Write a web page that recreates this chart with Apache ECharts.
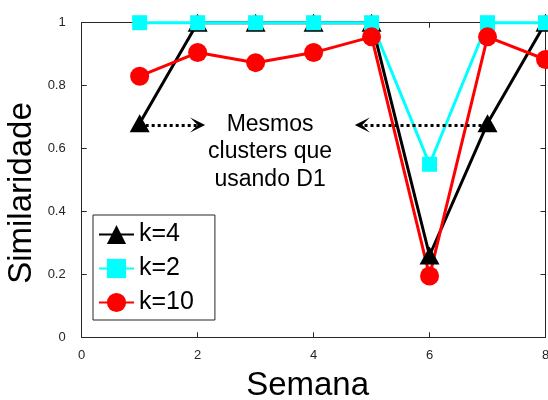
<!DOCTYPE html>
<html>
<head>
<meta charset="utf-8">
<script src="https://cdn.jsdelivr.net/npm/echarts@6/dist/echarts.min.js"></script>
<style>
html,body{margin:0;padding:0;background:#fff;}
#chart{width:548px;height:400px;}
</style>
</head>
<body>
<div id="chart"></div>
<script>
// ---- data ----
const weeks = [1, 2, 3, 4, 5, 6, 7, 8];
const k4Values = [0.68, 1, 1, 1, 1, 0.26, 0.68, 1];
const k2Values = [1, 1, 1, 1, 1, 0.55, 1, 1];
const k10Values = [0.83, 0.905, 0.873, 0.905, 0.955, 0.195, 0.955, 0.883];
const seriesNames = ['k=4', 'k=2', 'k=10'];
const xTicks = [0, 2, 4, 6, 8];
const yTicks = [0, 0.2, 0.4, 0.6, 0.8, 1];
const annotationText = 'Mesmos\nclusters que\nusando D1';
const annotationPos = [3.25, 0.59];
const arrowRight = [[1, 0.675], [2.0, 0.675]];
const arrowLeft = [[7, 0.675], [4.84, 0.675]];

const FONT = 'Liberation Sans, Arial, Helvetica, sans-serif';
const AX = '#262626';
const pairs = (ys) => weeks.map((w, i) => [w, ys[i]]);

const chart = echarts.init(document.getElementById('chart'), null, {renderer: 'canvas'});

const baseX = {
  type: 'value', min: xTicks[0], max: xTicks[xTicks.length - 1], interval: 2,
  axisLine: {show: true, onZero: false, lineStyle: {color: AX, width: 1}},
  axisTick: {show: true, inside: true, length: 5, lineStyle: {color: AX}},
  splitLine: {show: false}
};
const baseY = {
  type: 'value', min: yTicks[0], max: yTicks[yTicks.length - 1], interval: 0.2,
  axisLine: {show: true, onZero: false, lineStyle: {color: AX, width: 1}},
  axisTick: {show: true, inside: true, length: 5, lineStyle: {color: AX}},
  splitLine: {show: false}
};

// open chevron arrow head pointing "up" (rotated along line by ECharts)
const arrowHead = 'path://M5,0 L10,10 L5,5 L0,10 Z';

const option = {
  animation: false,
  backgroundColor: '#ffffff',
  textStyle: {fontFamily: FONT},
  grid: {left: 81.7, right: 2.5, top: 22.7, bottom: 62.7, containLabel: false, outerBoundsMode: 'none'},
  legend: {
    orient: 'vertical',
    left: 93, top: 215,
    data: seriesNames,
    itemWidth: 35, itemHeight: 24, itemGap: 9,
    padding: [7, 21, 5, 5],
    borderColor: AX, borderWidth: 1, backgroundColor: '#fff',
    textStyle: {fontFamily: FONT, fontSize: 25, color: '#000'},
    selectedMode: false
  },
  xAxis: [
    Object.assign({}, baseX, {
      position: 'bottom',
      name: 'Semana', nameLocation: 'middle', nameGap: 32, nameMoveOverlap: false,
      nameTextStyle: {fontFamily: FONT, fontSize: 33, color: '#000', padding: [0, 12, 0, 0]},
      axisLabel: {show: true, margin: 12, fontSize: 13, color: AX, fontFamily: FONT}
    }),
    Object.assign({}, baseX, {position: 'top', axisLabel: {show: false}})
  ],
  yAxis: [
    Object.assign({}, baseY, {
      position: 'left',
      name: 'Similaridade', nameLocation: 'middle', nameGap: 43, nameMoveOverlap: false,
      nameTextStyle: {fontFamily: FONT, fontSize: 33, color: '#000', padding: [0, 26, 0, 0]},
      axisLabel: {show: true, margin: 16, fontSize: 13, color: AX, fontFamily: FONT}
    }),
    Object.assign({}, baseY, {position: 'right', axisLabel: {show: false}})
  ],
  series: [
    {
      name: seriesNames[0], type: 'line', data: pairs(k4Values),
      xAxisIndex: 0, yAxisIndex: 0, clip: false,
      symbol: 'triangle', symbolSize: [20, 18],
      lineStyle: {color: '#000', width: 3},
      itemStyle: {color: '#000'},
      markLine: {
        silent: true, animation: false,
        symbol: ['none', arrowHead], symbolSize: 15,
        label: {show: false},
        lineStyle: {color: '#000', width: 3, type: [3, 3]},
        data: [
          [{coord: arrowRight[0]}, {coord: arrowRight[1]}],
          [{coord: arrowLeft[0]}, {coord: arrowLeft[1]}]
        ]
      },
      markPoint: {
        silent: true, animation: false,
        symbol: 'circle', symbolSize: 1,
        itemStyle: {color: 'rgba(0,0,0,0)'},
        label: {
          show: true, position: 'inside', formatter: annotationText,
          fontFamily: FONT, fontSize: 23, lineHeight: 27.5, color: '#000', align: 'center'
        },
        data: [{coord: annotationPos}]
      }
    },
    {
      name: seriesNames[1], type: 'line', data: pairs(k2Values),
      xAxisIndex: 0, yAxisIndex: 0, clip: false,
      symbol: 'rect', symbolSize: 15,
      lineStyle: {color: '#00ffff', width: 3},
      itemStyle: {color: '#00ffff'}
    },
    {
      name: seriesNames[2], type: 'line', data: pairs(k10Values),
      xAxisIndex: 0, yAxisIndex: 0, clip: false,
      symbol: 'circle', symbolSize: 19,
      lineStyle: {color: '#ff0000', width: 3},
      itemStyle: {color: '#ff0000'}
    }
  ]
};
chart.setOption(option);
</script>
</body>
</html>
